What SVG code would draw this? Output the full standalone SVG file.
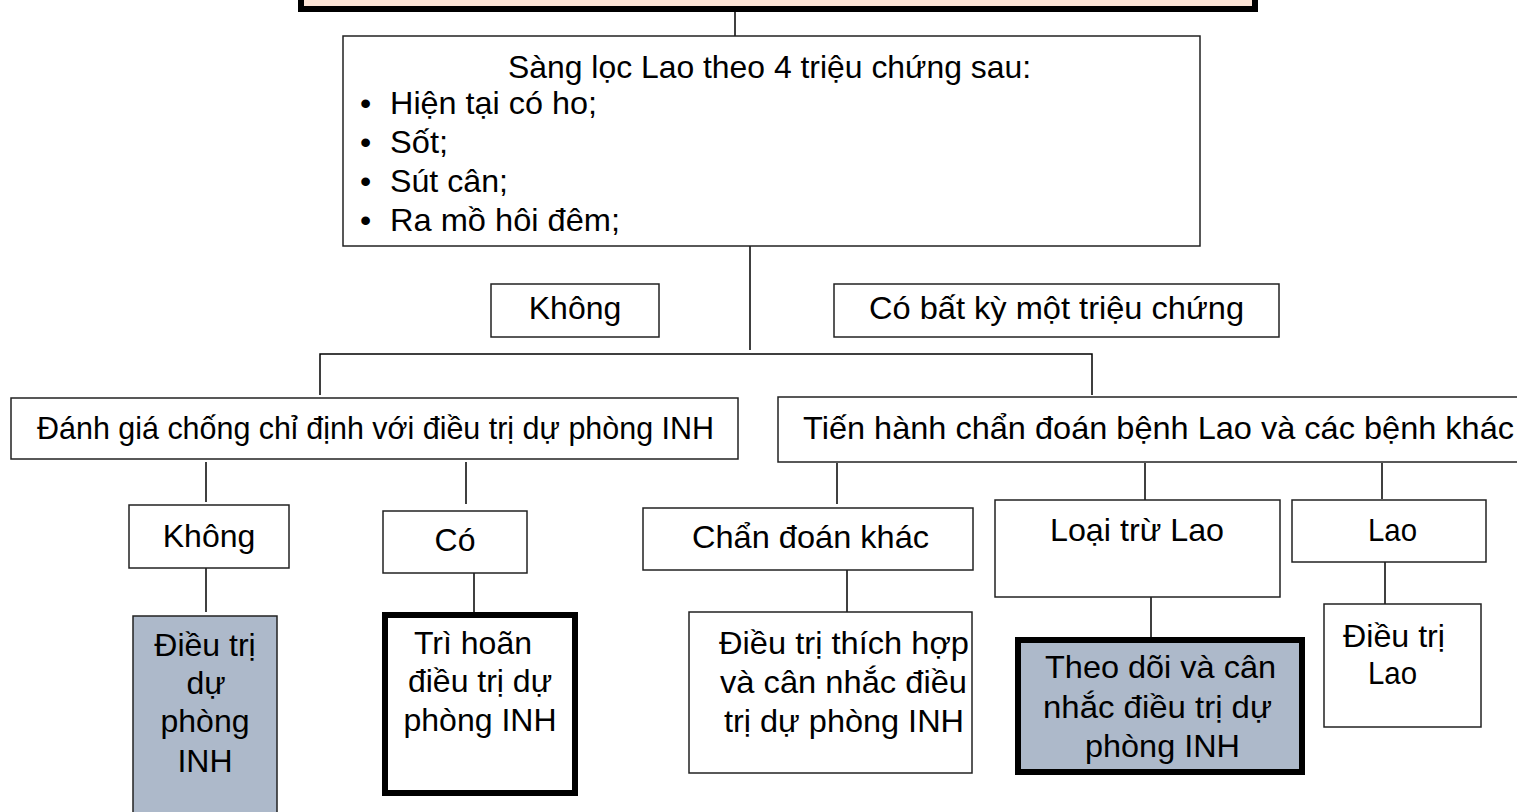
<svg xmlns="http://www.w3.org/2000/svg" width="1517" height="812" viewBox="0 0 1517 812">
<style>
text{font-family:"Liberation Sans",Arial,sans-serif;font-size:32px;fill:#000}
.c{text-anchor:middle}
.b{fill:#fff;stroke:#222;stroke-width:1.5}
.g{fill:#ADB9CA;stroke:#222;stroke-width:1.5}
.tk{stroke:#000;stroke-width:6}
.ln{stroke:#000;stroke-width:1.5;fill:none}
</style>
<rect width="1517" height="812" fill="#fff"/>
<g id="connectors">
<path class="ln" d="M735 12V36"/>
<path class="ln" d="M750 246V350"/>
<path class="ln" d="M320 395V354H1092V395"/>
<path class="ln" d="M206 462V502"/>
<path class="ln" d="M466 462V504"/>
<path class="ln" d="M206 568V612"/>
<path class="ln" d="M474 573V612"/>
<path class="ln" d="M837 463V504"/>
<path class="ln" d="M1145 463V500"/>
<path class="ln" d="M1382 463V499"/>
<path class="ln" d="M847 570V612"/>
<path class="ln" d="M1151 597V637"/>
<path class="ln" d="M1385 562V604"/>
</g>
<g id="top">
<rect x="301" y="-20" width="954" height="29" fill="#FCE4D6" stroke="#000" stroke-width="6"/>
</g>
<g id="screening">
<rect class="b" x="343" y="36" width="857" height="210"/>
<text x="508" y="78" textLength="523" lengthAdjust="spacingAndGlyphs">Sàng lọc Lao theo 4 triệu chứng sau:</text>
<text x="360" y="114">•</text>
<text x="390" y="114" textLength="207" lengthAdjust="spacingAndGlyphs">Hiện tại có ho;</text>
<text x="360" y="153">•</text>
<text x="390" y="153" textLength="58" lengthAdjust="spacingAndGlyphs">Sốt;</text>
<text x="360" y="192">•</text>
<text x="390" y="192" textLength="118" lengthAdjust="spacingAndGlyphs">Sút cân;</text>
<text x="360" y="231">•</text>
<text x="390" y="231" textLength="230" lengthAdjust="spacingAndGlyphs">Ra mồ hôi đêm;</text>
</g>
<g id="khong1">
<rect class="b" x="491" y="284" width="168" height="53"/>
<text class="c" x="575" y="319">Không</text>
</g>
<g id="co-trieu-chung">
<rect class="b" x="834" y="284" width="445" height="53"/>
<text x="869" y="319" textLength="375" lengthAdjust="spacingAndGlyphs">Có bất kỳ một triệu chứng</text>
</g>
<g id="danh-gia">
<rect class="b" x="11" y="398" width="727" height="61"/>
<text x="37" y="439" textLength="677" lengthAdjust="spacingAndGlyphs">Đánh giá chống chỉ định với điều trị dự phòng INH</text>
</g>
<g id="tien-hanh">
<rect class="b" x="778" y="397" width="760" height="65"/>
<text x="803" y="439" textLength="711" lengthAdjust="spacingAndGlyphs">Tiến hành chẩn đoán bệnh Lao và các bệnh khác</text>
</g>
<g id="khong2">
<rect class="b" x="129" y="505" width="160" height="63"/>
<text class="c" x="209" y="547">Không</text>
</g>
<g id="co">
<rect class="b" x="383" y="511" width="144" height="62"/>
<text class="c" x="455" y="551">Có</text>
</g>
<g id="dieu-tri-inh">
<rect class="g" x="133" y="616" width="144" height="210"/>
<text class="c" x="205" y="656">Điều trị</text>
<text class="c" x="206" y="694">dự</text>
<text class="c" x="205" y="732">phòng</text>
<text class="c" x="205" y="772">INH</text>
</g>
<g id="tri-hoan">
<rect x="385" y="615" width="190" height="178" fill="#fff" class="tk"/>
<text class="c" x="473" y="654">Trì hoãn</text>
<text class="c" x="480" y="692">điều trị dự</text>
<text class="c" x="480" y="731">phòng INH</text>
</g>
<g id="chan-doan-khac">
<rect class="b" x="643" y="508" width="330" height="62"/>
<text x="692" y="548" textLength="237" lengthAdjust="spacingAndGlyphs">Chẩn đoán khác</text>
</g>
<g id="loai-tru">
<rect class="b" x="995" y="500" width="285" height="97"/>
<text x="1050" y="541" textLength="174" lengthAdjust="spacingAndGlyphs">Loại trừ Lao</text>
</g>
<g id="lao">
<rect class="b" x="1292" y="500" width="194" height="62"/>
<text x="1368" y="541" textLength="49" lengthAdjust="spacingAndGlyphs">Lao</text>
</g>
<g id="dieu-tri-thich-hop">
<rect class="b" x="689" y="612" width="283" height="161"/>
<text x="719" y="654" textLength="250" lengthAdjust="spacingAndGlyphs">Điều trị thích hợp</text>
<text x="720" y="693" textLength="247" lengthAdjust="spacingAndGlyphs">và cân nhắc điều</text>
<text x="724" y="732" textLength="240" lengthAdjust="spacingAndGlyphs">trị dự phòng INH</text>
</g>
<g id="theo-doi">
<rect x="1018" y="640" width="284" height="132" fill="#ADB9CA" class="tk"/>
<text x="1045" y="678" textLength="231" lengthAdjust="spacingAndGlyphs">Theo dõi và cân</text>
<text x="1043" y="718" textLength="229" lengthAdjust="spacingAndGlyphs">nhắc điều trị dự</text>
<text x="1085" y="757" textLength="155" lengthAdjust="spacingAndGlyphs">phòng INH</text>
</g>
<g id="dieu-tri-lao">
<rect class="b" x="1324" y="604" width="157" height="123"/>
<text x="1343" y="647" textLength="102" lengthAdjust="spacingAndGlyphs">Điều trị</text>
<text x="1368" y="684" textLength="49" lengthAdjust="spacingAndGlyphs">Lao</text>
</g>
</svg>
